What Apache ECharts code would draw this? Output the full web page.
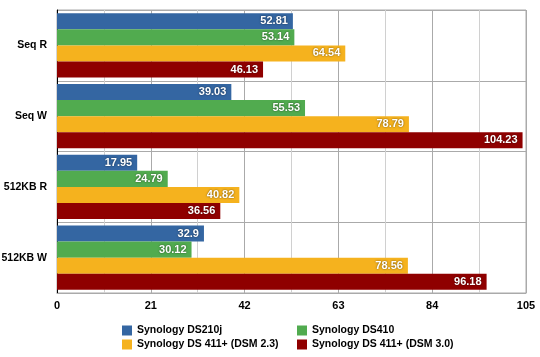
<!DOCTYPE html>
<html>
<head>
<meta charset="utf-8">
<script src="https://cdn.jsdelivr.net/npm/echarts@6/dist/echarts.min.js"></script>
<style>html,body{margin:0;padding:0;background:#fff}#c{width:540px;height:357px}</style>
</head>
<body>
<div id="c"></div>
<script>
var categories = ['Seq R', 'Seq W', '512KB R', '512KB W'];
var seriesNames = ['Synology DS210j', 'Synology DS410', 'Synology DS 411+ (DSM 2.3)', 'Synology DS 411+ (DSM 3.0)'];
var ds210j = [52.81, 39.03, 17.95, 32.9];
var ds410 = [53.14, 55.53, 24.79, 30.12];
var ds411dsm23 = [64.54, 78.79, 40.82, 78.56];
var ds411dsm30 = [46.13, 104.23, 36.56, 96.18];
var colors = ['#3466a2', '#51ab4f', '#f5b21e', '#8f0000'];
var FONT = "'Liberation Sans', Arial, sans-serif";

var chart = echarts.init(document.getElementById('c'), null, {renderer: 'canvas'});
var dataSets = [ds210j, ds410, ds411dsm23, ds411dsm30];
var series = dataSets.map(function (d, i) {
  return {
    name: seriesNames[i],
    type: 'bar',
    data: d,
    barGap: '0%',
    barCategoryGap: '9%',
    itemStyle: {color: colors[i]},
    label: {
      show: true,
      position: 'insideRight',
      distance: 5,
      color: '#fff',
      fontFamily: FONT,
      fontWeight: 'bold',
      fontSize: 11,
      textShadowColor: 'rgba(0,0,0,0.6)',
      textShadowBlur: 2,
      textShadowOffsetX: 0,
      textShadowOffsetY: 0
    }
  };
});

var legendPos = [[117, 320], [292, 320], [117, 334], [292, 334]];
var legends = seriesNames.map(function (n, i) {
  return {
    data: [n],
    left: legendPos[i][0], top: legendPos[i][1],
    itemWidth: 10, itemHeight: 10, itemGap: 0,
    icon: 'rect',
    textStyle: {fontFamily: FONT, fontWeight: 'bold', fontSize: 10.5, color: '#000'}
  };
});

chart.setOption({
  animation: false,
  color: colors,
  grid: {left: 57, right: 14, top: 10, bottom: 64, containLabel: false, outerBoundsMode: 'none',
         show: true, borderColor: '#aaaaaa', borderWidth: 1},
  legend: legends,
  xAxis: {
    type: 'value', min: 0, max: 105, interval: 21,
    axisLine: {show: true, lineStyle: {color: '#aaaaaa'}},
    axisTick: {show: false},
    axisLabel: {color: '#000', fontFamily: FONT, fontWeight: 'bold', fontSize: 11, margin: 7},
    splitLine: {show: true, lineStyle: {color: '#aaaaaa', width: 1}},
    minorTick: {show: false, splitNumber: 2},
    minorSplitLine: {show: true, lineStyle: {color: '#d0d0d0', width: 1}}
  },
  yAxis: {
    type: 'category', data: categories, inverse: true,
    axisLine: {show: true, lineStyle: {color: '#000', width: 1}},
    axisTick: {show: false},
    axisLabel: {color: '#000', fontFamily: FONT, fontWeight: 'bold', fontSize: 10.5, margin: 10},
    splitLine: {show: true, lineStyle: {color: '#aaaaaa', width: 1}}
  },
  series: series
});
</script>
</body>
</html>
